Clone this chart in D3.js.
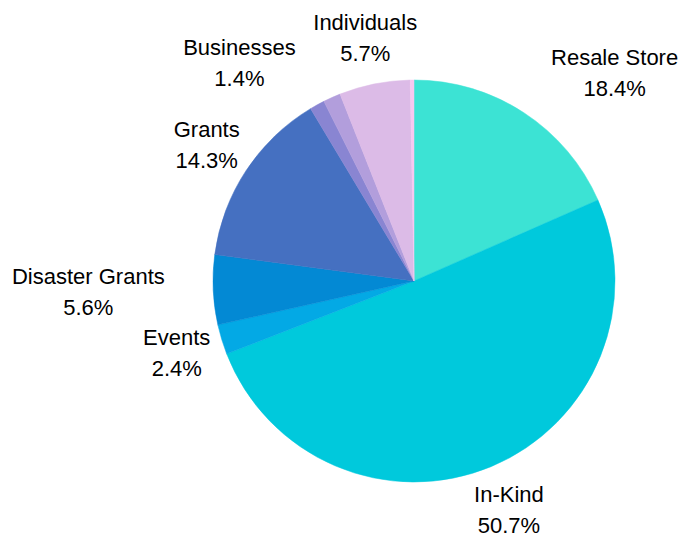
<!DOCTYPE html>
<html>
<head>
<meta charset="utf-8">
<script src="https://cdn.jsdelivr.net/npm/d3@7"></script>
<style>
  html, body { margin: 0; padding: 0; background: #ffffff; }
  svg { display: block; }
  text { font-family: "Liberation Sans", Arial, sans-serif; fill: #000; }
</style>
</head>
<body>
<svg id="chart" width="680" height="536"></svg>
<script>
// ---- data ----
const categories = ["Resale Store", "In-Kind", "Events", "Disaster Grants", "Grants", "Other", "Businesses", "Individuals", "Other (small)"];
const values     = [18.4, 50.7, 2.4, 5.6, 14.3, 1.2, 1.4, 5.7, 0.3];
const showLabel  = [true, true, true, true, true, false, true, true, false];
const colors     = ["#3ce3d4", "#00c9dc", "#03a9e5", "#0389d4", "#4570c1", "#8985d2", "#b29edc", "#dcbbe7", "#f7c8f0"];

// ---- layout ----
const W = 680, H = 536;
const cx = 414, cy = 281, R = 201;
const labelR = 248;
const fontSize = 22;
const lineGap = 31;

const svg = d3.select("#chart");
const g = svg.append("g").attr("transform", `translate(${cx},${cy})`);

const data = categories.map((c, i) => ({ name: c, value: values[i], color: colors[i], show: showLabel[i] }));

const pie = d3.pie().sort(null).value(d => d.value).startAngle(0).endAngle(2 * Math.PI);
const arcs = pie(data);
const arc = d3.arc().innerRadius(0).outerRadius(R);

g.selectAll("path.slice")
  .data(arcs)
  .enter().append("path")
  .attr("class", "slice")
  .attr("d", arc)
  .attr("fill", d => d.data.color)
  .attr("stroke", d => d.data.color)
  .attr("stroke-width", 0.5);

// ---- labels ----
const fmt = v => v.toFixed(1) + "%";
const labelled = arcs.filter(d => d.data.show);

const placed = [];
function boxOf(lx, ly, w) {
  return { x0: lx - w / 2, x1: lx + w / 2, y0: ly - 23.5, y1: ly + 23 };
}
function overlapsDisk(b) {
  const px = Math.max(b.x0, Math.min(0, b.x1));
  const py = Math.max(b.y0, Math.min(0, b.y1));
  return Math.hypot(px, py) < R + 2;
}
function overlapsBox(a, b) {
  return a.x0 < b.x1 && b.x0 < a.x1 && a.y0 < b.y1 && b.y0 < a.y1;
}

// larger slices get placement priority
const order = labelled.slice().sort((a, b) => b.data.value - a.data.value);
order.forEach(d => {
  const mid = (d.startAngle + d.endAngle) / 2;
  const s = Math.sin(mid), c = -Math.cos(mid);
  const tmp = g.append("text").attr("font-size", fontSize).text(d.data.name);
  const w1 = tmp.node().getComputedTextLength();
  tmp.text(fmt(d.data.value));
  const w2 = tmp.node().getComputedTextLength();
  tmp.remove();
  const w = Math.max(w1, w2);
  let lx = labelR * s, ly = labelR * c;
  let b = boxOf(lx, ly, w);
  const dir = s >= 0 ? 1 : -1;
  const hitLabel = placed.some(p => overlapsBox(p, b));
  if (hitLabel) {
    lx += dir * (w / 2 + 17);
    ly += 8;
    b = boxOf(lx, ly, w);
  } else if (overlapsDisk(b)) {
    lx += dir * (w / 2 + 1.5);
    b = boxOf(lx, ly, w);
  }
  placed.push(b);
  d.lx = lx; d.ly = ly;
});

const lab = g.selectAll("g.lab")
  .data(labelled)
  .enter().append("g")
  .attr("class", "lab")
  .attr("transform", d => `translate(${d.lx},${d.ly})`);

lab.append("text")
  .attr("text-anchor", "middle")
  .attr("font-size", fontSize)
  .attr("y", -8)
  .text(d => d.data.name);

lab.append("text")
  .attr("text-anchor", "middle")
  .attr("font-size", fontSize)
  .attr("y", -8 + lineGap)
  .text(d => fmt(d.data.value));
</script>
</body>
</html>
